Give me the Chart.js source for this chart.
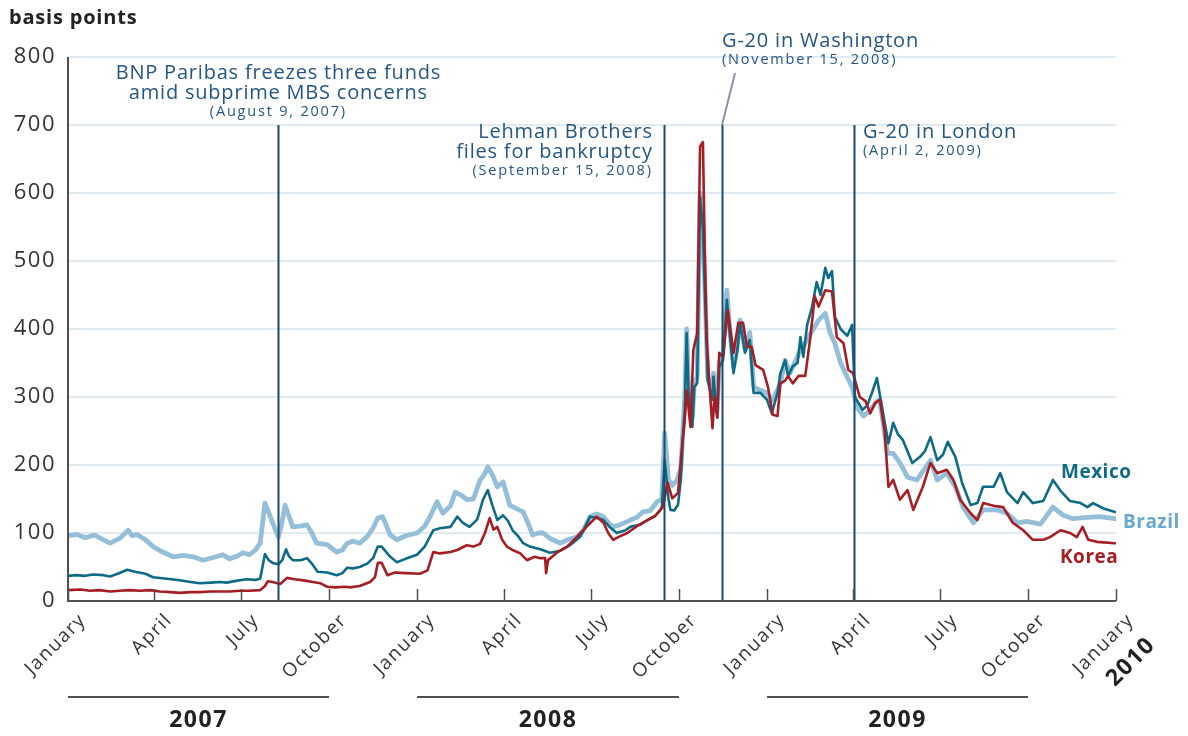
<!DOCTYPE html>
<html>
<head>
<meta charset="utf-8">
<script src="https://cdn.jsdelivr.net/npm/chart.js@4.4.1/dist/chart.umd.min.js"></script>
<style>
  html, body { margin: 0; padding: 0; background: #ffffff; }
  #wrap { width: 1188px; height: 736px; }
</style>
</head>
<body>
<div id="wrap"><canvas id="c" width="1188" height="736"></canvas></div>
<script>
// ---- Axis / tick data (days counted from January 1, 2007) ----
const quarterDays = [0, 90, 181, 273, 365, 456, 547, 639, 731, 821, 912, 1004, 1096];
const quarterLabels = ['January', 'April', 'July', 'October', 'January', 'April', 'July', 'October',
                       'January', 'April', 'July', 'October', 'January'];
const yearLabels = ['2007', '2008', '2009'];
const yearStartDays = [0, 365, 731];
const yearEndDays = [273, 639, 1004];
const yTicks = [0, 100, 200, 300, 400, 500, 600, 700, 800];

// ---- Event markers ----
const eventDays = [220, 623, 684, 822];
const eventTitles = [
  ['BNP Paribas freezes three funds', 'amid subprime MBS concerns'],
  ['Lehman Brothers', 'files for bankruptcy'],
  ['G-20 in Washington'],
  ['G-20 in London']
];
const eventDates = ['(August 9, 2007)', '(September 15, 2008)', '(November 15, 2008)', '(April 2, 2009)'];

// ---- Series: Mexico ----
const mexicoDays = [0,9,18,26,37,44,52,62,70,81,89,101,115,128,138,149,159,166,177,187,196,201,206,210,214,220,224,228,231,235,243,250,255,261,271,281,287,292,298,305,313,319,324,328,337,344,353,365,373,382,389,400,407,413,420,428,434,439,444,449,455,460,465,471,476,483,494,504,515,525,536,546,553,560,567,574,583,588,598,606,614,619,621,624,628,630,634,638,641,643,645,647,649,653,655,658,661,664,667,669,674,675,679,681,685,689,692,696,700,703,708,713,717,724,731,736,742,745,750,753,758,763,766,769,773,778,783,787,792,795,799,802,808,815,820,823,831,836,841,846,851,858,863,868,873,883,891,896,902,909,915,920,928,935,944,951,957,968,975,982,993,999,1009,1020,1030,1038,1048,1059,1066,1072,1083,1095];
const mexicoVals = [37,38,37,39,38,36,40,46,43,40,35,33,31,28,26,27,28,27,30,32,31,33,69,60,56,54,60,76,66,60,60,63,55,43,42,38,41,49,48,50,55,63,80,80,65,57,62,68,80,104,107,109,124,115,109,120,149,163,140,119,126,118,104,95,85,80,76,71,74,82,95,124,122,119,108,100,104,109,112,119,125,133,138,207,150,134,133,142,180,240,280,394,306,256,315,320,594,546,413,325,296,330,270,344,354,443,394,335,369,409,365,384,306,306,296,276,306,335,354,331,345,350,388,359,406,432,469,450,490,475,485,418,400,390,406,300,281,288,307,328,287,232,262,245,237,203,212,220,241,207,215,234,212,174,141,144,168,168,188,160,144,160,144,147,178,162,147,144,138,144,136,131];

// ---- Series: Brazil ----
const brazilDays = [0,9,18,28,37,44,54,63,67,72,81,89,99,110,120,131,141,152,162,169,177,183,190,196,201,206,210,214,220,223,227,231,235,243,250,255,260,271,281,287,292,298,305,313,319,324,329,337,344,353,365,373,379,386,392,400,405,412,417,424,431,435,439,444,449,455,462,470,476,481,486,492,497,504,515,522,532,539,546,553,560,565,570,577,588,595,601,609,616,621,624,628,632,637,641,643,645,647,649,653,655,658,661,664,667,669,674,675,679,681,685,689,692,696,700,703,708,713,717,724,731,736,742,745,750,755,766,773,779,785,792,797,802,808,815,820,825,832,839,846,849,857,863,870,878,888,902,909,919,928,936,947,957,972,982,993,1003,1017,1030,1041,1051,1066,1079,1095];
const brazilVals = [96,98,93,97,90,85,92,104,96,98,90,80,72,65,67,65,60,64,68,62,66,71,68,75,85,144,130,115,94,110,141,125,109,110,112,100,85,83,72,75,85,88,85,95,107,122,124,97,90,96,100,110,125,146,129,140,160,155,149,150,178,185,197,185,168,175,141,135,131,115,97,100,100,92,85,90,94,104,124,128,124,115,109,112,119,123,131,133,146,150,247,178,170,178,195,250,300,400,310,270,320,330,600,550,420,330,300,335,280,350,365,457,400,345,375,413,370,395,315,310,306,295,310,320,354,335,369,384,399,413,423,394,379,350,329,315,285,272,281,294,296,217,217,203,182,178,207,178,188,168,138,115,134,134,129,115,117,113,138,126,121,123,124,121];

// ---- Series: Korea ----
const koreaDays = [0,13,23,33,44,54,65,75,86,96,107,117,128,138,149,159,169,180,190,201,206,209,214,222,229,237,248,256,264,271,279,290,295,305,316,321,324,328,334,342,353,368,376,382,389,400,407,417,424,431,436,441,445,449,454,459,465,473,480,488,494,499,500,502,512,522,532,543,553,560,565,570,577,585,595,606,614,622,627,632,638,642,645,647,651,654,658,661,664,666,668,671,674,676,679,681,685,690,696,701,706,710,715,719,727,732,737,742,745,750,753,758,764,771,776,781,785,792,799,804,811,816,821,825,828,834,839,844,849,854,858,863,870,878,884,894,902,909,919,926,933,944,951,957,968,978,988,999,1009,1020,1027,1038,1048,1055,1061,1067,1076,1095];
const koreaVals = [16,17,15,16,14,15,16,15,16,14,13,12,13,13,14,14,14,15,15,16,22,29,28,25,34,32,30,28,26,21,20,21,20,22,28,35,56,56,38,42,41,40,45,72,70,72,75,82,80,84,100,122,105,109,90,80,75,70,60,65,63,63,41,60,72,80,94,110,124,115,100,90,95,100,110,119,125,138,174,151,159,225,266,310,256,369,394,668,675,511,384,315,254,300,270,365,359,428,365,409,409,374,374,347,340,315,274,272,320,324,331,320,331,331,384,448,433,457,455,388,379,340,335,315,300,294,276,291,296,251,168,178,149,163,134,168,203,188,193,178,149,129,119,144,140,138,115,104,90,90,94,104,100,94,109,90,87,85];

const COLORS = {
  mexico: '#0f6b85',
  brazil: '#95bfd9',
  brazilText: '#6aa7cc',
  korea: '#a51e23',
  event: '#1c4a6e',
  eventText: '#245683',
  axis: '#505050',
  grid: '#e1eaf1',
  text: '#333333'
};

function pts(days, vals) { return days.map((d, i) => ({ x: d, y: vals[i] })); }

const FONT = "'Open Sans', 'DejaVu Sans', sans-serif";

const spacing = {
  id: 'spacing',
  beforeDraw(chart) { chart.ctx.letterSpacing = '1.5px'; }
};

function txt(ctx, s, x, y, font, spc) {
  ctx.font = font;
  ctx.letterSpacing = spc;
  ctx.fillText(s, x, y);
}

const decor = {
  id: 'decor',
  afterDatasetsDraw(chart) {
    const ctx = chart.ctx;
    const xs = chart.scales.x, ys = chart.scales.y;
    const ca = chart.chartArea;
    ctx.save();
    // event lines
    ctx.strokeStyle = COLORS.event;
    ctx.lineWidth = 2;
    const top = ys.getPixelForValue(700);
    eventDays.forEach(d => {
      const px = Math.round(xs.getPixelForValue(d)) + 0.5;
      ctx.beginPath();
      ctx.moveTo(px, top);
      ctx.lineTo(px, ca.bottom);
      ctx.stroke();
    });
    // leader for G-20 Washington
    const wx = xs.getPixelForValue(eventDays[2]);
    ctx.strokeStyle = '#8a93a8';
    ctx.lineWidth = 2;
    ctx.beginPath();
    ctx.moveTo(wx, top);
    ctx.lineTo(wx + 13, top - 52);
    ctx.stroke();

    // axes
    ctx.strokeStyle = COLORS.axis;
    ctx.lineWidth = 2;
    ctx.beginPath();
    ctx.moveTo(ca.left, ca.top);
    ctx.lineTo(ca.left, ca.bottom);
    ctx.lineTo(ca.right, ca.bottom);
    ctx.stroke();
    // tick marks (inside, upward)
    ctx.lineWidth = 1.5;
    quarterDays.forEach(d => {
      const px = Math.round(xs.getPixelForValue(d)) + 0.5;
      ctx.beginPath();
      ctx.moveTo(px, ca.bottom);
      ctx.lineTo(px, ca.bottom - 12);
      ctx.stroke();
    });
    // year lines and labels
    ctx.lineWidth = 2;
    ctx.fillStyle = '#222';
    ctx.textAlign = 'center';
    ctx.textBaseline = 'middle';
    yearLabels.forEach((lab, i) => {
      const x0 = xs.getPixelForValue(yearStartDays[i]);
      const x1 = xs.getPixelForValue(yearEndDays[i]);
      ctx.beginPath();
      ctx.moveTo(x0, 697);
      ctx.lineTo(x1, 697);
      ctx.stroke();
      txt(ctx, lab, (x0 + x1) / 2, 720, "bold 23px " + FONT, '1.5px');
    });
    // 2010 rotated
    ctx.save();
    ctx.translate(xs.getPixelForValue(1096) + 15, 662);
    ctx.rotate(-Math.PI / 4);
    txt(ctx, '2010', 0, 0, "bold 23px " + FONT, '1.5px');
    ctx.restore();

    // event texts
    ctx.fillStyle = COLORS.eventText;
    ctx.textBaseline = 'alphabetic';
    const TF = "20px " + FONT, DF = "14.5px " + FONT;
    // BNP (centered over line)
    const bx = xs.getPixelForValue(eventDays[0]);
    ctx.textAlign = 'center';
    txt(ctx, eventTitles[0][0], bx, 79, TF, '0.8px');
    txt(ctx, eventTitles[0][1], bx, 99, TF, '0.8px');
    txt(ctx, eventDates[0], bx, 116, DF, '1.8px');
    // Lehman (right aligned left of line)
    const lx = xs.getPixelForValue(eventDays[1]) - 11;
    ctx.textAlign = 'right';
    txt(ctx, eventTitles[1][0], lx, 138, TF, '0.8px');
    txt(ctx, eventTitles[1][1], lx, 158, TF, '0.8px');
    txt(ctx, eventDates[1], lx, 175, DF, '1.8px');
    // Washington
    ctx.textAlign = 'left';
    txt(ctx, eventTitles[2][0], wx, 47, TF, '0.8px');
    txt(ctx, eventDates[2], wx, 64, DF, '1.8px');
    // London
    const gx = xs.getPixelForValue(eventDays[3]) + 9;
    txt(ctx, eventTitles[3][0], gx, 138, TF, '0.8px');
    txt(ctx, eventDates[3], gx, 155, DF, '1.8px');

    // series labels
    ctx.textBaseline = 'middle';
    const SF = "bold 19px " + FONT;
    ctx.fillStyle = COLORS.mexico;
    txt(ctx, 'Mexico', 1061, 473, SF, '0.5px');
    ctx.fillStyle = COLORS.brazilText;
    txt(ctx, 'Brazil', 1123, 523, SF, '0.5px');
    ctx.fillStyle = COLORS.korea;
    txt(ctx, 'Korea', 1060, 558, SF, '0.5px');

    // unit title
    ctx.fillStyle = '#222';
    ctx.textAlign = 'left';
    txt(ctx, 'basis points', 9, 18, "bold 20px " + FONT, '0.8px');
    ctx.restore();
  }
};

new Chart(document.getElementById('c'), {
  type: 'line',
  data: {
    datasets: [
      { label: 'Korea', data: pts(koreaDays, koreaVals), borderColor: COLORS.korea, borderWidth: 2.6 },
      { label: 'Mexico', data: pts(mexicoDays, mexicoVals), borderColor: COLORS.mexico, borderWidth: 2.6 },
      { label: 'Brazil', data: pts(brazilDays, brazilVals), borderColor: COLORS.brazil, borderWidth: 4.8 }
    ]
  },
  options: {
    responsive: false,
    animation: false,
    devicePixelRatio: 1,
    elements: { point: { radius: 0 }, line: { tension: 0, borderJoinStyle: 'round', borderCapStyle: 'round' } },
    layout: { padding: { left: 0, right: 72, top: 57, bottom: 0 } },
    plugins: { legend: { display: false }, tooltip: { enabled: false } },
    scales: {
      x: {
        type: 'linear',
        min: 0,
        max: 1096,
        afterBuildTicks: (s) => { s.ticks = quarterDays.map(v => ({ value: v })); },
        afterFit: (s) => { s.height = 135; },
        grid: { display: false },
        border: { display: false },
        ticks: {
          autoSkip: false,
          maxRotation: 45,
          minRotation: 45,
          padding: 0,
          labelOffset: 15,
          color: COLORS.text,
          font: { family: FONT, size: 19 },
          callback: (v, i) => quarterLabels[i]
        }
      },
      y: {
        min: 0,
        max: 800,
        afterBuildTicks: (s) => { s.ticks = yTicks.map(v => ({ value: v })); },
        afterFit: (s) => { s.width = 68; },
        grid: { color: COLORS.grid, lineWidth: 2, drawTicks: false },
        border: { display: false },
        ticks: {
          padding: 12,
          color: COLORS.text,
          font: { family: FONT, size: 22 }
        }
      }
    }
  },
  plugins: [spacing, decor]
});
</script>
</body>
</html>
